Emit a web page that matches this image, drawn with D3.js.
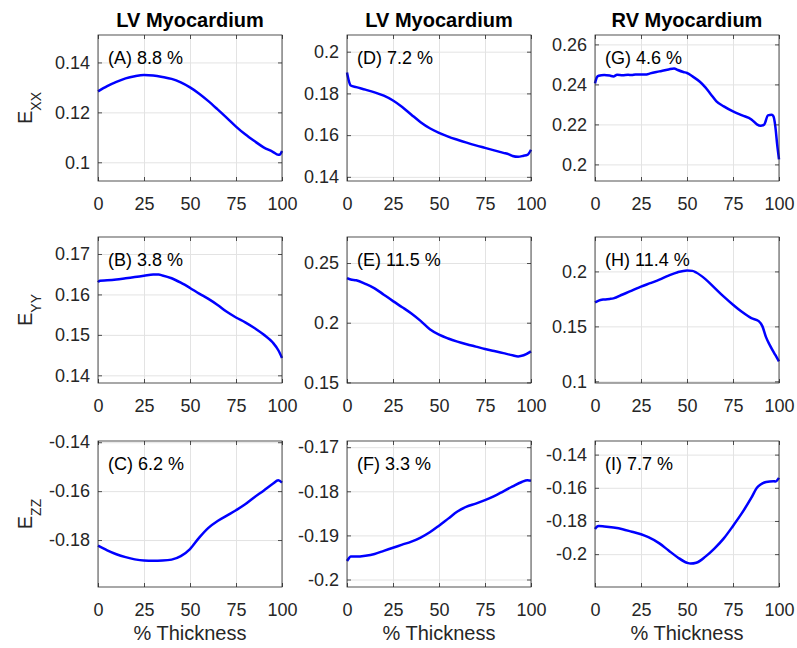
<!DOCTYPE html>
<html>
<head>
<meta charset="utf-8">
<script src="https://cdn.jsdelivr.net/npm/d3@7"></script>
<style>
  body { margin: 0; background: #fff; }
  text { font-family: "Liberation Sans", Arial, Helvetica, sans-serif; }
</style>
</head>
<body>
<div class="svg-container"></div>
<script>
var width = 797;
var height = 648;

// column titles, row labels, shared x ticks
var colTitles = ["LV Myocardium", "LV Myocardium", "RV Myocardium"];
var rowSubs = ["XX", "YY", "ZZ"];
var xTicks = [0, 25, 50, 75, 100];
var xLabel = "% Thickness";

// panel annotations (column-major: A,B,C | D,E,F | G,H,I)
var letters = ["A", "B", "C", "D", "E", "F", "G", "H", "I"];
var percents = ["8.8", "3.8", "6.2", "7.2", "11.5", "3.3", "4.6", "11.4", "7.7"];

// y ticks per panel
var ticksA = [0.1, 0.12, 0.14];
var ticksB = [0.14, 0.15, 0.16, 0.17];
var ticksC = [-0.18, -0.16, -0.14];
var ticksD = [0.14, 0.16, 0.18, 0.2];
var ticksE = [0.15, 0.2, 0.25];
var ticksF = [-0.2, -0.19, -0.18, -0.17];
var ticksG = [0.2, 0.22, 0.24, 0.26];
var ticksH = [0.1, 0.15, 0.2];
var ticksI = [-0.2, -0.18, -0.16, -0.14];

// y limits per panel
var limA = [0.0925, 0.151];
var limB = [0.1381, 0.1742];
var limC = [-0.1992, -0.1395];
var limD = [0.138, 0.208];
var limE = [0.1495, 0.2718];
var limF = [-0.2017, -0.1686];
var limG = [0.1917, 0.2647];
var limH = [0.0985, 0.2313];
var limI = [-0.2198, -0.1318];

// curves (x = % thickness)
var thickA = [0, 5, 10, 15, 20, 25, 30, 35, 40, 45, 50, 55, 60, 65, 70, 75, 80, 85, 90, 95, 98, 99, 100];
var strainA = [0.1284, 0.1305, 0.1322, 0.1336, 0.1345, 0.1350, 0.1348, 0.1342, 0.1334, 0.1320, 0.1300, 0.1275, 0.1245, 0.1212, 0.1178, 0.1143, 0.1112, 0.1085, 0.1060, 0.1042, 0.1030, 0.1032, 0.1045];

var thickB = [0, 1, 5, 10, 15, 20, 25, 30, 33, 35, 40, 45, 50, 55, 60, 65, 70, 75, 80, 85, 90, 95, 98, 100];
var strainB = [0.1630, 0.1634, 0.1635, 0.1637, 0.1640, 0.1643, 0.1646, 0.1649, 0.1649, 0.1647, 0.1640, 0.1629, 0.1616, 0.1602, 0.1589, 0.1574, 0.1557, 0.1543, 0.1531, 0.1517, 0.1501, 0.1481, 0.1462, 0.1443];

var thickC = [0, 5, 10, 15, 20, 25, 30, 35, 40, 45, 50, 55, 60, 65, 70, 75, 80, 85, 90, 95, 98, 100];
var strainC = [-0.1823, -0.1842, -0.1858, -0.1870, -0.1879, -0.1884, -0.1885, -0.1884, -0.1880, -0.1866, -0.1837, -0.1790, -0.1750, -0.1722, -0.1700, -0.1678, -0.1654, -0.1625, -0.1598, -0.1570, -0.1556, -0.1565];

var thickD = [0, 1, 2, 5, 10, 15, 20, 25, 30, 35, 40, 45, 50, 55, 60, 65, 70, 75, 80, 85, 88, 90, 93, 96, 98, 100];
var strainD = [0.1900, 0.1860, 0.1838, 0.1830, 0.1818, 0.1805, 0.1789, 0.1766, 0.1735, 0.1698, 0.1662, 0.1633, 0.1611, 0.1593, 0.1578, 0.1564, 0.1551, 0.1539, 0.1527, 0.1515, 0.1508, 0.1500, 0.1496, 0.1501, 0.1505, 0.1530];

var thickE = [0, 2, 5, 10, 15, 20, 25, 30, 35, 40, 45, 50, 55, 60, 65, 70, 75, 80, 85, 90, 93, 96, 100];
var strainE = [0.2374, 0.2362, 0.2355, 0.2325, 0.2288, 0.2235, 0.2181, 0.2130, 0.2077, 0.2015, 0.1945, 0.1900, 0.1868, 0.1842, 0.1820, 0.1800, 0.1780, 0.1763, 0.1745, 0.1727, 0.1718, 0.1727, 0.1760];

var thickF = [0, 1, 2, 5, 10, 15, 20, 25, 30, 35, 40, 45, 50, 55, 60, 65, 70, 75, 80, 85, 90, 95, 98, 100];
var strainF = [-0.1958, -0.1952, -0.1948, -0.1948, -0.1946, -0.1942, -0.1935, -0.1928, -0.1921, -0.1914, -0.1905, -0.1893, -0.1878, -0.1862, -0.1846, -0.1835, -0.1828, -0.1820, -0.1811, -0.1800, -0.1789, -0.1779, -0.1775, -0.1776];

var thickG = [0, 1, 2, 5, 8, 10, 12, 15, 18, 20, 22, 25, 28, 30, 35, 40, 43, 45, 48, 50, 53, 57, 60, 63, 66, 70, 75, 80, 85, 88, 90, 92, 94, 96, 97, 98, 99, 100];
var strainG = [0.2405, 0.2435, 0.2443, 0.2447, 0.2444, 0.2440, 0.2448, 0.2446, 0.2448, 0.2447, 0.2450, 0.2449, 0.2450, 0.2455, 0.2465, 0.2475, 0.2480, 0.2472, 0.2462, 0.2457, 0.2440, 0.2413, 0.2385, 0.2350, 0.2315, 0.2290, 0.2265, 0.2245, 0.2225, 0.2200, 0.2193, 0.2200, 0.2245, 0.2248, 0.2240, 0.2190, 0.2100, 0.2025];

var thickH = [0, 2, 5, 8, 10, 15, 20, 25, 30, 35, 40, 45, 50, 53, 55, 60, 65, 70, 75, 80, 85, 89, 91, 93, 95, 98, 100];
var strainH = [0.1718, 0.1735, 0.1745, 0.1750, 0.1755, 0.1790, 0.1825, 0.1862, 0.1893, 0.1925, 0.1962, 0.1993, 0.2009, 0.2005, 0.1990, 0.1930, 0.1850, 0.1770, 0.1697, 0.1630, 0.1575, 0.1548, 0.1500, 0.1400, 0.1330, 0.1240, 0.1182];

var thickI = [0, 1, 2, 5, 10, 15, 20, 25, 29, 35, 40, 45, 50, 52, 55, 60, 65, 70, 75, 80, 85, 88, 90, 93, 97, 98, 100];
var strainI = [-0.1848, -0.1835, -0.1830, -0.1833, -0.1840, -0.1850, -0.1865, -0.1880, -0.1898, -0.1935, -0.1978, -0.2020, -0.2052, -0.2057, -0.2052, -0.2015, -0.1965, -0.1905, -0.1830, -0.1750, -0.1660, -0.1600, -0.1580, -0.1565, -0.1560, -0.1562, -0.1540];

var thicks = [thickA, thickB, thickC, thickD, thickE, thickF, thickG, thickH, thickI];
var strains = [strainA, strainB, strainC, strainD, strainE, strainF, strainG, strainH, strainI];
var yTicks = [ticksA, ticksB, ticksC, ticksD, ticksE, ticksF, ticksG, ticksH, ticksI];
var yLims = [limA, limB, limC, limD, limE, limF, limG, limH, limI];

// layout
var colX = [98, 347, 595];
var rowY = [35, 237, 441];
var panelW = 184;
var panelH = 146;
var axisColor = "#262626";

var fmt = d3.formatLocale({ decimal: ".", thousands: ",", grouping: [3], currency: ["", ""], minus: "-" }).format("~g");

var svg = d3.select(".svg-container")
    .append("svg")
    .attr("width", width)
    .attr("height", height);

// column titles
colTitles.forEach(function(t, c) {
    svg.append("text")
        .attr("x", colX[c] + panelW / 2)
        .attr("y", 27)
        .attr("text-anchor", "middle")
        .style("font-size", "20px")
        .style("font-weight", "bold")
        .attr("fill", "#000")
        .text(t);
});

// row labels E_XX etc
rowSubs.forEach(function(s, r) {
    var lab = svg.append("text")
        .attr("transform", "translate(32," + (rowY[r] + panelH / 2) + ") rotate(-90)")
        .attr("text-anchor", "middle")
        .style("font-size", "20px")
        .attr("fill", axisColor);
    lab.append("tspan").text("E");
    lab.append("tspan").attr("dy", 9).style("font-size", "14px").text(s);
});

// x labels under the bottom row
colX.forEach(function(cx) {
    svg.append("text")
        .attr("x", cx + panelW / 2)
        .attr("y", 640)
        .attr("text-anchor", "middle")
        .style("font-size", "20px")
        .attr("fill", axisColor)
        .text(xLabel);
});

for (var i = 0; i < 9; i++) {
    drawPanel(i);
}

function drawPanel(i) {
    var c = Math.floor(i / 3), r = i % 3;
    var g = svg.append("g")
        .attr("transform", "translate(" + colX[c] + "," + rowY[r] + ")");

    var x = d3.scaleLinear().domain([0, 100]).range([0, panelW]);
    var y = d3.scaleLinear().domain(yLims[i]).range([panelH, 0]);

    // grid
    g.append("g")
        .attr("class", "grid")
        .call(d3.axisBottom(x).tickValues(xTicks).tickSize(panelH).tickFormat(""))
        .call(function(a) { a.select(".domain").remove(); })
        .selectAll("line").attr("stroke", "#e3e3e3");
    g.append("g")
        .attr("class", "grid")
        .call(d3.axisLeft(y).tickValues(yTicks[i]).tickSize(-panelW).tickFormat(""))
        .call(function(a) { a.select(".domain").remove(); })
        .selectAll("line").attr("stroke", "#e3e3e3");

    // curve
    var pts = d3.zip(thicks[i], strains[i]);
    g.append("path")
        .datum(pts)
        .attr("fill", "none")
        .attr("stroke", "#0000ff")
        .attr("stroke-width", 2.5)
        .attr("stroke-linejoin", "round")
        .attr("d", d3.line()
            .x(function(d) { return x(d[0]); })
            .y(function(d) { return y(d[1]); })
            .curve(d3.curveMonotoneX));

    // axes with inward ticks on all four sides
    var left = g.append("g")
        .call(d3.axisLeft(y).tickValues(yTicks[i]).tickSize(-4).tickPadding(8).tickFormat(fmt));
    var right = g.append("g")
        .attr("transform", "translate(" + panelW + ",0)")
        .call(d3.axisRight(y).tickValues(yTicks[i]).tickSize(-4).tickFormat(""));
    var bottom = g.append("g")
        .attr("transform", "translate(0," + panelH + ")")
        .call(d3.axisBottom(x).tickValues(xTicks).tickSize(-4).tickPadding(16).tickFormat(fmt));
    var top = g.append("g")
        .call(d3.axisTop(x).tickValues(xTicks).tickSize(-4).tickFormat(""));

    [left, right, bottom, top].forEach(function(a) {
        a.select(".domain").remove();
        a.selectAll("line").attr("stroke", axisColor).attr("stroke-width", 0.8);
        a.selectAll("text")
            .attr("fill", axisColor)
            .style("font-size", "18px")
            .style("font-family", "'Liberation Sans', Arial, sans-serif");
    });

    // box
    g.append("rect")
        .attr("width", panelW)
        .attr("height", panelH)
        .attr("fill", "none")
        .attr("stroke", axisColor)
        .attr("stroke-width", 0.8);

    // panel annotation
    g.append("text")
        .attr("x", 10)
        .attr("y", 28.5)
        .style("font-size", "18px")
        .attr("fill", "#000")
        .text("(" + letters[i] + ") " + percents[i] + " %");
}
</script>
</body>
</html>
